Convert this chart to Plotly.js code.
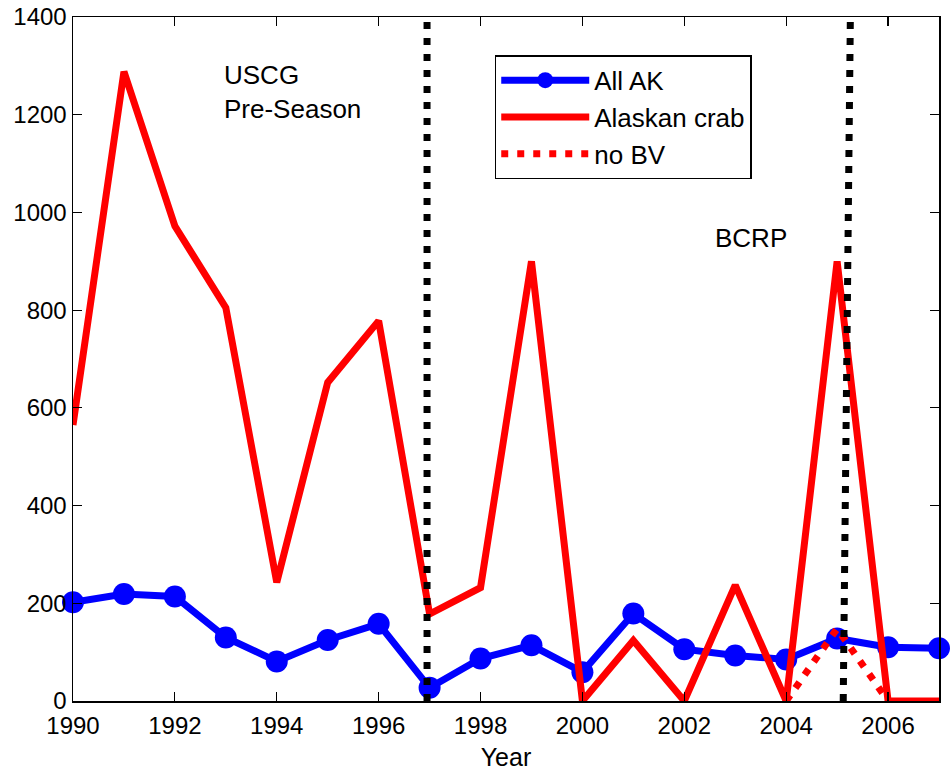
<!DOCTYPE html>
<html>
<head>
<meta charset="utf-8">
<script src="https://cdn.plot.ly/plotly-3.0.1.min.js"></script>
<style>
html,body{margin:0;padding:0;background:#fff;}
#chart{width:950px;height:772px;}
</style>
</head>
<body>
<div id="chart"></div>
<script>
// Data
var years = [1990,1991,1992,1993,1994,1995,1996,1997,1998,1999,2000,2001,2002,2003,2004,2005,2006,2007];
var allAK = [202,219,214,130,81,125,158,27,87,114,59,179,106,93,85,128,110,108];
var alaskanCrab = [565,1288,972,805,243,652,778,178,232,900,0,124,0,237,0,900,0,0];
var noBVYears = [2004,2005,2006];
var noBV = [0,148,0];
var uscgLineX = [1996.95,1996.95];
var bcrpLineX = [2005.12,2005.26];
var eventLineY = [0,1400];
var xTickVals = [1990,1992,1994,1996,1998,2000,2002,2004,2006];
var xTickText = ['1990','1992','1994','1996','1998','2000','2002','2004','2006'];
var yTickVals = [0,200,400,600,800,1000,1200,1400];
var yTickText = ['0','200','400','600','800','1000','1200','1400'];

var FONT = 'Liberation Sans, Arial, sans-serif';

var traces = [
  {x: years, y: allAK, name: 'All AK', type: 'scatter', mode: 'lines+markers',
   line: {color: '#0000ff', width: 7}, marker: {color: '#0000ff', size: 22},
   cliponaxis: false},
  {x: years, y: alaskanCrab, name: 'Alaskan crab', type: 'scatter', mode: 'lines',
   line: {color: '#ff0000', width: 7}},
  {x: noBVYears, y: noBV, name: 'no BV', type: 'scatter', mode: 'lines',
   line: {color: '#ff0000', width: 7, dash: '7px,9px'}},
  {x: uscgLineX, y: eventLineY, showlegend: false, type: 'scatter', mode: 'lines',
   line: {color: '#000000', width: 7, dash: '7px,9px'}, hoverinfo: 'skip'},
  {x: bcrpLineX, y: eventLineY, showlegend: false, type: 'scatter', mode: 'lines',
   line: {color: '#000000', width: 7, dash: '7px,9px'}, hoverinfo: 'skip'}
];

var layout = {
  width: 950, height: 772,
  margin: {l: 73, r: 11, t: 17, b: 71},
  paper_bgcolor: '#ffffff', plot_bgcolor: '#ffffff',
  font: {family: FONT, size: 24, color: '#000000'},
  showlegend: true,
  legend: {
    x: 0.487, y: 0.944, xanchor: 'left', yanchor: 'top',
    bgcolor: '#ffffff', bordercolor: '#000000', borderwidth: 1.5,
    font: {family: FONT, size: 26, color: '#000000'},
    itemwidth: 88, tracegroupgap: 0
  },
  xaxis: {
    range: [1990, 2007], tickmode: 'array', tickvals: xTickVals, ticktext: xTickText,
    showline: true, linecolor: '#000000', linewidth: 1.5, mirror: 'ticks',
    ticks: 'inside', ticklen: 9, tickwidth: 1.2, tickcolor: '#000000',
    showgrid: false, zeroline: false, ticklabelstandoff: 3,
    tickfont: {family: FONT, size: 24, color: '#000000'},
    title: {text: 'Year', font: {family: FONT, size: 25, color: '#000000'}, standoff: 10}
  },
  yaxis: {
    range: [0, 1400], tickmode: 'array', tickvals: yTickVals, ticktext: yTickText,
    showline: true, linecolor: '#000000', linewidth: 1.5, mirror: 'ticks',
    ticks: 'inside', ticklen: 9, tickwidth: 1.2, tickcolor: '#000000',
    showgrid: false, zeroline: false,
    tickfont: {family: FONT, size: 24, color: '#000000'}
  },
  annotations: [
    {text: 'USCG<br>Pre-Season', xref: 'paper', yref: 'paper', x: 0.1725, y: 0.94,
     xanchor: 'left', yanchor: 'top', align: 'left', showarrow: false,
     font: {family: FONT, size: 26, color: '#000000'}},
    {text: 'BCRP', xref: 'paper', yref: 'paper', x: 0.739, y: 0.702,
     xanchor: 'left', yanchor: 'top', align: 'left', showarrow: false,
     font: {family: FONT, size: 26, color: '#000000'}}
  ]
};

Plotly.newPlot('chart', traces, layout, {staticPlot: true, displayModeBar: false});
</script>
</body>
</html>
